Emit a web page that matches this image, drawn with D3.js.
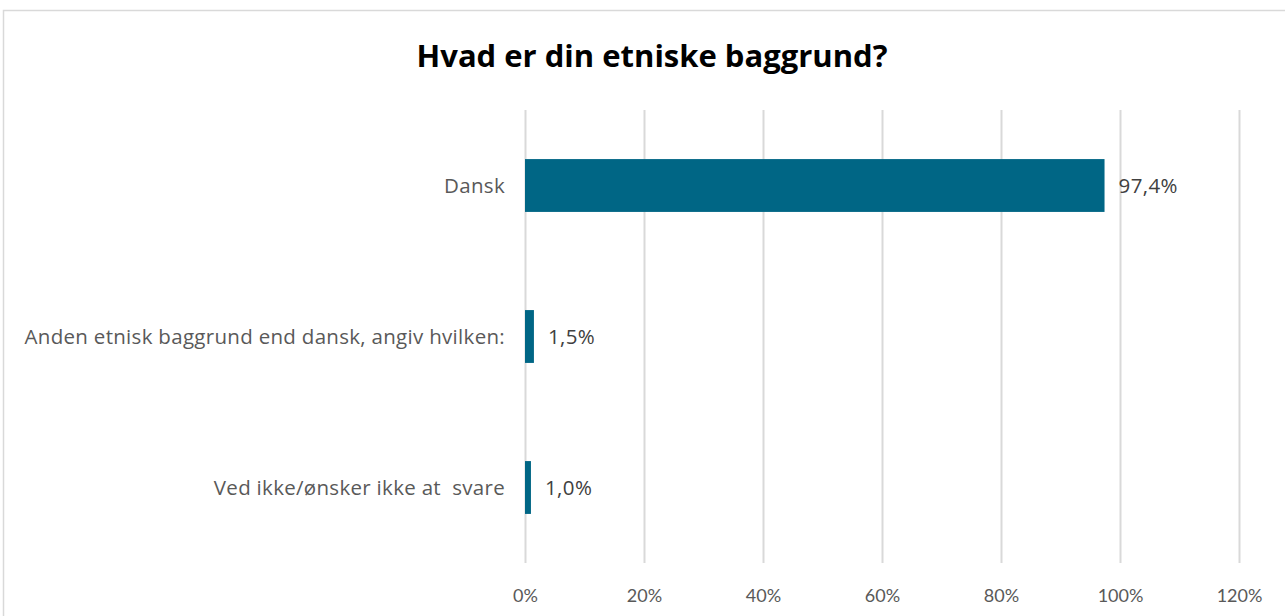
<!DOCTYPE html>
<html>
<head>
<meta charset="utf-8">
<script src="https://cdn.jsdelivr.net/npm/d3@7"></script>
<style>
  body { margin: 0; background: #fff; }
  svg text { font-family: "Open Sans", sans-serif; }
</style>
</head>
<body>
<div id="chart"></div>
<script>
// data
var title = "Hvad er din etniske baggrund?";
var categories = ["Dansk", "Anden etnisk baggrund end dansk, angiv hvilken:", "Ved ikke/ønsker ikke at  svare"];
var values = [0.974, 0.015, 0.010];
var tickValues = [0, 0.2, 0.4, 0.6, 0.8, 1.0, 1.2];

var W = 1285, H = 616;

// set the dimensions of the plot area
var plot = { left: 525, right: 1239, top: 110, bottom: 563 };

var svg = d3.select("#chart")
    .append("svg")
    .attr("width", W)
    .attr("height", H);

// chart border
svg.append("rect")
    .attr("x", 3.5)
    .attr("y", 10.5)
    .attr("width", 1297)
    .attr("height", 640)
    .style("fill", "#fff")
    .style("stroke", "#d9d9d9")
    .style("stroke-width", 1.5);

var x = d3.scaleLinear()
    .domain([0, 1.2])
    .range([plot.left, plot.right]);

var y = d3.scaleBand()
    .domain(categories)
    .range([plot.top, plot.bottom])
    .paddingInner(0.65)
    .paddingOuter(0.325);

var locale = d3.formatLocale({ decimal: ",", thousands: ".", grouping: [3], currency: ["", " kr"] });
var pct0 = locale.format(".0%"),
    pct1 = locale.format(".1%");

// gridlines + tick labels
var xAxis = d3.axisBottom(x)
    .tickValues(tickValues)
    .tickSize(-(plot.bottom - plot.top))
    .tickFormat(pct0);

var gx = svg.append("g")
    .attr("transform", "translate(0," + plot.bottom + ")")
    .call(xAxis);
gx.select(".domain").remove();
gx.selectAll(".tick line")
    .style("stroke", "#d9d9d9")
    .style("stroke-width", 2);
gx.selectAll(".tick text")
    .attr("y", 33)
    .attr("dy", "0.35em")
    .style("font-family", "Lato, sans-serif")
    .style("font-size", "18px")
    .style("fill", "#595959");

// bars
svg.selectAll("rect.bar")
    .data(values)
    .enter()
    .append("rect")
    .attr("class", "bar")
    .attr("x", x(0))
    .attr("y", function (d, i) { return y(categories[i]); })
    .attr("width", function (d) { return x(d) - x(0); })
    .attr("height", y.bandwidth())
    .style("fill", "#006685");

// value labels
svg.selectAll("text.val")
    .data(values)
    .enter()
    .append("text")
    .attr("class", "val")
    .attr("x", function (d) { return x(d) + 14; })
    .attr("y", function (d, i) { return y(categories[i]) + y.bandwidth() / 2; })
    .attr("dy", "0.35em")
    .style("font-size", "20.5px")
    .style("letter-spacing", "0.4px")
    .style("fill", "#404040")
    .text(function (d) { return pct1(d); });

// category labels
svg.selectAll("text.cat")
    .data(categories)
    .enter()
    .append("text")
    .attr("class", "cat")
    .attr("x", plot.left - 20)
    .attr("y", function (d) { return y(d) + y.bandwidth() / 2; })
    .attr("dy", "0.35em")
    .attr("text-anchor", "end")
    .style("white-space", "pre")
    .style("font-size", "20.5px")
    .style("letter-spacing", "0.3px")
    .style("fill", "#595959")
    .text(function (d) { return d; });

// title
svg.append("text")
    .attr("x", 652)
    .attr("y", 56)
    .attr("dy", "0.35em")
    .attr("text-anchor", "middle")
    .style("font-size", "31px")
    .style("font-weight", "bold")
    .style("fill", "#000")
    .text(title);
</script>
</body>
</html>
